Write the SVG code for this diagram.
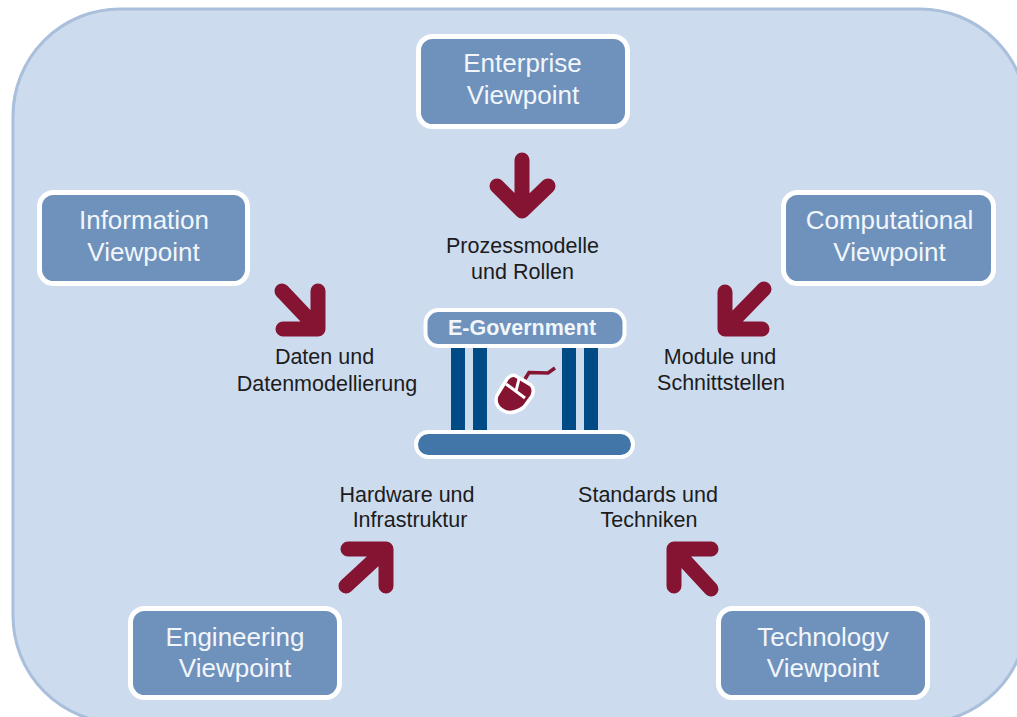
<svg xmlns="http://www.w3.org/2000/svg" width="1017" height="717" viewBox="0 0 1017 717">
<style>
.box{fill:#6f92bd;stroke:#fff;stroke-width:5}
.vp{font-family:"Liberation Sans",Arial,sans-serif;font-size:26px;fill:#f2f6fb;text-anchor:middle}
.lb{font-family:"Liberation Sans",Arial,sans-serif;font-size:21.500px;fill:#1c1c1c;text-anchor:middle}
.arrow{fill:none;stroke:#851432;stroke-width:15;stroke-linecap:round;stroke-linejoin:round}
.pillar{fill:#004b85}
</style>
<rect width="1017" height="717" fill="#fff"/>
<rect id="frame" x="13" y="9" width="1014" height="714" rx="107" ry="107" fill="#ccdbee" stroke="#a9bfdb" stroke-width="3"/>
<g id="connectors">
<path class="arrow" d="M522 160V210M497 186L522 211L548 186"/>
<path class="arrow" d="M282 291L318 329M318 291V329H283"/>
<path class="arrow" d="M764 289L725 329M725 292V329H762"/>
<path class="arrow" d="M346 586L386 549M348 549H386V586"/>
<path class="arrow" d="M711 589L674 549M711 549H674V586"/>
</g>
<g id="enterprise"><rect class="box" x="418.500" y="36.500" width="209" height="90" rx="14"/><text class="vp" x="522.500" y="72">Enterprise</text><text class="vp" x="523" y="104">Viewpoint</text></g>
<g id="information"><rect class="box" x="39.500" y="192.500" width="208" height="91" rx="14"/><text class="vp" x="144" y="229">Information</text><text class="vp" x="143.500" y="261">Viewpoint</text></g>
<g id="computational"><rect class="box" x="783.500" y="192.500" width="210" height="91" rx="14"/><text class="vp" x="889.500" y="229">Computational</text><text class="vp" x="889.500" y="261">Viewpoint</text></g>
<g id="engineering"><rect class="box" x="130.500" y="608.500" width="209" height="89" rx="14"/><text class="vp" x="235" y="646">Engineering</text><text class="vp" x="235" y="677">Viewpoint</text></g>
<g id="technology"><rect class="box" x="718.500" y="608.500" width="209" height="89" rx="14"/><text class="vp" x="823" y="646">Technology</text><text class="vp" x="823" y="677">Viewpoint</text></g>
<g id="label-prozess"><text class="lb" x="522.500" y="253">Prozessmodelle</text><text class="lb" x="522.500" y="279">und Rollen</text></g>
<g id="label-daten"><text class="lb" x="324.500" y="364">Daten und</text><text class="lb" x="327" y="391">Datenmodellierung</text></g>
<g id="label-module"><text class="lb" x="720" y="364">Module und</text><text class="lb" x="721" y="390">Schnittstellen</text></g>
<g id="label-hardware"><text class="lb" x="407" y="502">Hardware und</text><text class="lb" x="410" y="527">Infrastruktur</text></g>
<g id="label-standards"><text class="lb" x="648" y="502">Standards und</text><text class="lb" x="649" y="527">Techniken</text></g>
<g id="egov">
<rect class="pillar" x="451" y="346" width="14" height="86"/><rect class="pillar" x="473" y="346" width="14" height="86"/><rect class="pillar" x="562" y="346" width="14" height="86"/><rect class="pillar" x="584" y="346" width="14" height="86"/>
<rect x="425.500" y="310" width="199" height="36" rx="13" fill="#6f92bd" stroke="#fff" stroke-width="4"/>
<text x="522" y="335" font-family="'Liberation Sans',Arial,sans-serif" font-size="21.500" font-weight="bold" fill="#f2f6fb" text-anchor="middle">E-Government</text>
<rect x="416" y="432" width="217" height="25" rx="12.500" fill="#4275a8" stroke="#fff" stroke-width="4"/>
<g id="mouse">
<path d="M525 379L529 372.500L548 373L555 368" fill="none" stroke="#851432" stroke-width="3.500"/>
<path d="M515 375.500L531 385Q535 389 532 396L524 407Q515 414 506 412Q496 408 496 400Q496 396 499 392L507 379Q511 374 515 375.500Z" fill="#851432" stroke="#fff" stroke-width="3.500" stroke-linejoin="round"/>
<path d="M506 384L525 398M519 379L516 391" stroke="#fff" stroke-width="3" fill="none"/>
</g>
</g>
</svg>
